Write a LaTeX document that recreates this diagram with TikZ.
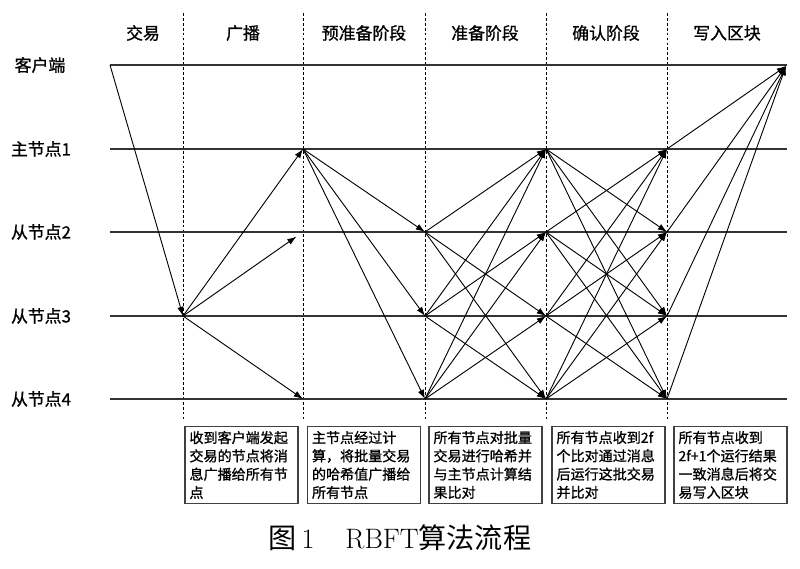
\documentclass[tikz,border=0pt]{standalone}
\usepackage{fontspec}
\newfontfamily\cjk{Noto Sans CJK SC}
\newfontfamily\cjkbold{Noto Sans CJK SC}[FakeBold=1]
\usepackage{tikz}
\usetikzlibrary{positioning,arrows.meta}
\tikzset{
  msg/.style={-{Latex[length=2.3mm,width=1.6mm]}, line width=0.65pt},
  timeline/.style={line width=1pt, black!80},
  phaseline/.style={dash pattern=on 2pt off 1.5pt, line width=0.6pt},
  phasehead/.style={font=\cjkbold\fontsize{12}{14}\selectfont},
  rowlabel/.style={font=\cjkbold\fontsize{12}{14}\selectfont},
  notebox/.style={draw=black!75, line width=0.8pt, minimum width=2.825cm,
    minimum height=1.85cm, text width=2.6cm, inner xsep=0.11cm, align=left,
    font=\cjkbold\fontsize{10}{13}\selectfont}
}

\begin{document}
\begin{tikzpicture}[x=0.025cm, y=-0.025cm, >=Latex]
\useasboundingbox (0,0) rectangle (800,569);
% phase separators
\draw[phaseline] (183,13) -- (183,421);
\draw[phaseline] (303,13) -- (303,421);
\draw[phaseline] (425,13) -- (425,421);
\draw[phaseline] (546,13) -- (546,421);
\draw[phaseline] (667,13) -- (667,421);
% phase headings
\node[phasehead] (h1) at (143,33) {交易};
\node[phasehead] (h2) at (243,33) {广播};
\node[phasehead] (h3) at (364,33) {预准备阶段};
\node[phasehead] (h4) at (485,33) {准备阶段};
\node[phasehead] (h5) at (606,33) {确认阶段};
\node[phasehead] (h6) at (727,33) {写入区块};
% rows
\node[rowlabel] (lcl) at (40,65) {客户端};
\node[rowlabel] (lm1) at (41,149) {主节点1};
\node[rowlabel] (ls2) at (41,232) {从节点2};
\node[rowlabel] (ls3) at (41,316) {从节点3};
\node[rowlabel] (ls4) at (41,399) {从节点4};
\draw[timeline] (110,65) -- (787,65);
\draw[timeline] (110,149) -- (787,149);
\draw[timeline] (110,232) -- (787,232);
\draw[timeline] (110,316) -- (787,316);
\draw[timeline] (110,399) -- (787,399);
% event points
\coordinate (cl-0) at (110,65);
\coordinate (cl-6) at (786,66);
\coordinate (s3-1) at (183,316);
\coordinate (m1-2) at (303,149);
\coordinate (s2-2) at (303,232);
\coordinate (s4-2) at (303,399);
\coordinate (s2-3) at (425,232);
\coordinate (s3-3) at (425,316);
\coordinate (s4-3) at (425,399);
\coordinate (m1-4) at (546,149);
\coordinate (s2-4) at (546,232);
\coordinate (s3-4) at (546,316);
\coordinate (s4-4) at (546,399);
\coordinate (m1-5) at (667,149);
\coordinate (s2-5) at (667,232);
\coordinate (s3-5) at (667,316);
\coordinate (s4-5) at (667,399);
% request and broadcast
\draw[msg] (cl-0) -- (s3-1);
\draw[msg] (s3-1) -- (m1-2);
\draw[msg, shorten >=2mm] (s3-1) -- (s2-2);
\draw[msg] (s3-1) -- (s4-2);
% pre-prepare
\draw[msg] (m1-2) -- (s2-3);
\draw[msg] (m1-2) -- (s3-3);
\draw[msg] (m1-2) -- (s4-3);
% prepare
\draw[msg] (s2-3) -- (m1-4);
\draw[msg] (s2-3) -- (s3-4);
\draw[msg] (s2-3) -- (s4-4);
\draw[msg] (s3-3) -- (m1-4);
\draw[msg] (s3-3) -- (s2-4);
\draw[msg] (s3-3) -- (s4-4);
\draw[msg] (s4-3) -- (m1-4);
\draw[msg] (s4-3) -- (s2-4);
\draw[msg] (s4-3) -- (s3-4);
% commit
\draw[msg] (m1-4) -- (s2-5);
\draw[msg] (m1-4) -- (s3-5);
\draw[msg] (m1-4) -- (s4-5);
\draw[msg] (s2-4) -- (m1-5);
\draw[msg] (s2-4) -- (s3-5);
\draw[msg] (s2-4) -- (s4-5);
\draw[msg] (s3-4) -- (m1-5);
\draw[msg] (s3-4) -- (s2-5);
\draw[msg] (s3-4) -- (s4-5);
\draw[msg] (s4-4) -- (m1-5);
\draw[msg] (s4-4) -- (s2-5);
\draw[msg] (s4-4) -- (s3-5);
% reply
\draw[msg] (m1-5) -- (cl-6);
\draw[msg] (s2-5) -- (cl-6);
\draw[msg] (s3-5) -- (cl-6);
\draw[msg] (s4-5) -- (cl-6);
% notes
\node[notebox] (n2) at (241.5,465) {收到客户端发起\\交易的节点将消\\息广播给所有节\\点};
\node[notebox] (n3) at (364,465) {主节点经过计\\算，将批量交易\\的哈希值广播给\\所有节点};
\node[notebox] (n4) at (485.5,465) {所有节点对批量\\交易进行哈希并\\与主节点计算结\\果比对};
\node[notebox] (n5) at (608.5,465) {所有节点收到2f\\个比对通过消息\\后运行这批交易\\并比对};
\node[notebox] (n6) at (730.5,465) {所有节点收到\\2f+1个运行结果\\一致消息后将交\\易写入区块};
% caption
\node[font=\fontsize{20}{24}\selectfont] (cap) at (400,538)
  {{\cjk 图}\,1\hspace{1.1em}RBFT{\cjk 算法流程}};
\end{tikzpicture}
\end{document}
